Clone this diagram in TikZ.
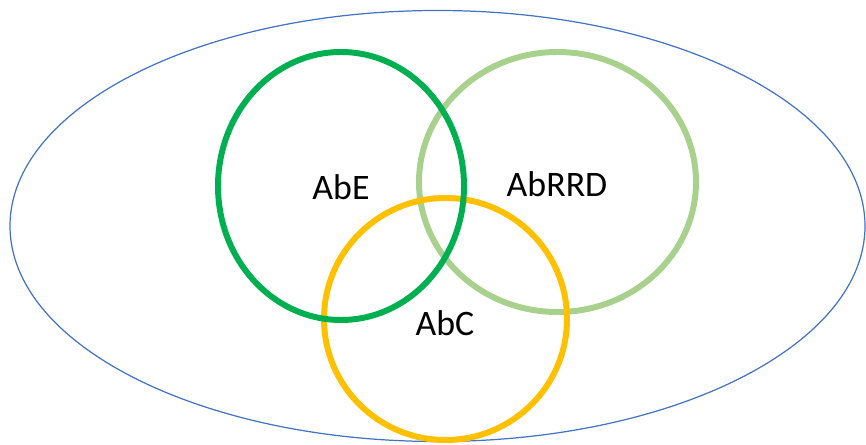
\documentclass[tikz,border=0pt]{standalone}
\usepackage{fontspec}
\setmainfont{Carlito}
\definecolor{setblue}{HTML}{4472C4}
\definecolor{darkgreen}{HTML}{00B050}
\definecolor{lightgreen}{HTML}{A9D18E}
\definecolor{setyellow}{HTML}{FFC000}
\tikzset{
  setline/.style={line width=3.4pt},
  setlabel/.style={font=\fontsize{20.4pt}{24pt}\selectfont, inner sep=0pt}
}
\begin{document}
\begin{tikzpicture}[x=0.02cm, y=-0.02cm]
  \useasboundingbox (0,0) rectangle (866,445);
  \draw[setblue, line width=0.7pt] (437.5,226) ellipse [x radius=427.5, y radius=215.5];
  \draw[setline, lightgreen] (557.5,182) ellipse [x radius=138.5, y radius=130];
  \draw[setline, setyellow] (445.5,319) ellipse [x radius=121.5, y radius=121];
  \draw[setline, darkgreen] (341,186) ellipse [x radius=123, y radius=134];
  \node[setlabel] (abe) at (341,187) {AbE};
  \node[setlabel] (abrrd) at (557,184) {AbRRD};
  \node[setlabel] (abc) at (445,323) {AbC};
\end{tikzpicture}
\end{document}
